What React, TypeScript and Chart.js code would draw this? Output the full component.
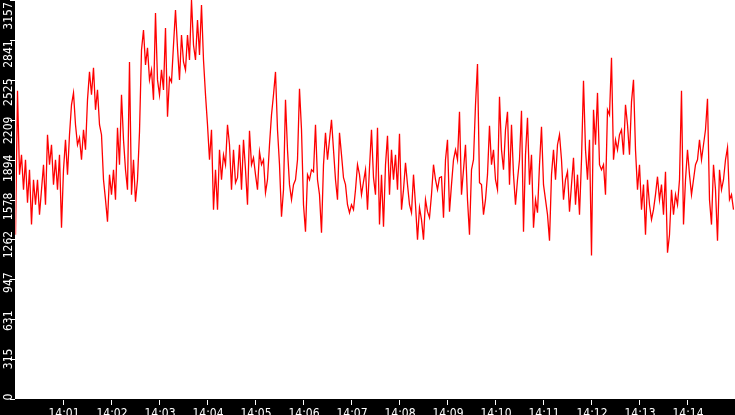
import { useEffect, useRef } from "react";
import { Chart, registerables } from "chart.js";

Chart.register(...registerables);

// Sampling: one reading every 2.5 s, starting at 14:00:00
const SAMPLE_SECONDS = 2.5;
const X_MAX_SECONDS = 900;
const X_TICK_STEP_SECONDS = 60;

// Series values (14:00:00 - 14:15:00)
const values1400 = [
  1300, 2438, 1775, 1932, 1656, 1893, 1553, 1814, 1380, 1735, 1537, 1735, 1459, 1656, 1854, 1537,
  2091, 1854, 2012, 1696, 1893, 1656, 1932, 1356, 1814, 2051, 1775, 2091, 2328, 2422, 2170, 2012,
  2067, 1893, 2130, 1972, 2367, 2588, 2407, 2620, 2288, 2446, 2170, 2091, 1735, 1577, 1403, 1775,
  1617, 1814, 1577, 2146, 1854, 2407, 2051,
];
const values1402 = [
  1814, 1656, 2667, 1617, 1893, 1561, 1735, 2114, 2762, 2920, 2643, 2778, 2525, 2604, 2367, 3054,
  2525, 2407, 2604, 2446, 2936, 2233, 2541, 2509, 2801, 3078, 2778, 2525, 2880, 2667, 2604, 2880,
  2683, 3157, 2801, 2683, 2999, 2722, 3117, 2683, 2407, 2170, 1893, 2130, 1498, 1814, 1498, 1972,
  1735, 1932, 1854, 2170, 2012, 1656, 1972,
];
const values1404 = [
  1711, 1751, 2012, 1656, 2051, 1814, 1537, 2122, 1854, 1909, 1775, 1656, 1956, 1854, 1893, 1632,
  1735, 2012, 2248, 2407, 2588, 2130, 1854, 1443, 1656, 2367, 1972, 1696, 1577, 1696, 1735, 1893,
  2454, 2130, 1537, 1324, 1775, 1735, 1814, 1798, 2170, 1735, 1617, 1316, 1854, 2106, 1893, 2051,
  2209, 1972, 1735, 1577, 2106, 1932, 1751, 1696, 1537, 1474, 1537, 1498, 1656, 1854, 1775,
];
const values1407 = [
  1617, 1719, 1814, 1498, 1830, 2130, 1751, 1617, 2146, 1380, 1775, 1364, 1854, 2083, 1617, 1972,
  1735, 1932, 1656, 2098, 1498, 1656, 1869, 1696, 1537, 1474, 1775, 1537, 1261, 1514, 1419, 1261,
  1577, 1482, 1435, 1617, 1854, 1735, 1656, 1751, 1759, 1435, 1893, 2051, 1482, 1696, 1893, 1972,
  1893, 2272, 1617, 1814, 2012, 1577, 1300, 1814, 1893, 2328, 2651, 1711, 1696, 1459,
];
const values1409 = [
  1577, 1775, 2162, 1854, 1972, 1735, 1656, 2391, 1972, 1814, 2130, 2272, 1696, 2170, 1775, 1537,
  1735, 1893, 2280, 1324, 1932, 2225, 1696, 1932, 1356, 1577, 1474, 1854, 2154, 1696, 1577, 1459,
  1253, 1775, 1972, 1735, 2012, 2091, 1893, 1577, 1735, 1798, 1482, 1696, 1909, 1537, 1775, 1459,
  1893, 2517, 1972, 1735, 2051, 1135, 2288, 2012, 2422, 1854, 1814, 1854, 1617, 2288,
];
const values1412 = [
  2248, 2699, 1893, 2051, 1972, 2091, 2130, 1932, 2328, 2170, 1932, 2351, 2525, 1972, 1656, 1854,
  1498, 1696, 1300, 1735, 1537, 1419, 1498, 1617, 1759, 1577, 1696, 1459, 1798, 1158, 1300, 1656,
  1459, 1617, 1537, 1735, 2438, 1380, 1735, 1972, 1775, 1617, 1735, 1854, 1893, 2051, 1893, 2012,
  2130, 2375, 1577, 1380, 1854, 1656, 1253, 1814, 1656, 1735, 1893, 1988, 1577, 1617, 1498,
];

const seriesValues = [
  ...values1400,
  ...values1402,
  ...values1404,
  ...values1407,
  ...values1409,
  ...values1412,
];

const xTickLabels = [
  "14:01", "14:02", "14:03", "14:04", "14:05", "14:06", "14:07",
  "14:08", "14:09", "14:10", "14:11", "14:12", "14:13", "14:14",
];

const Y_MAX = 3157;
const yTickLabels = ["0", "315", "631", "947", "1262", "1578", "1894", "2209", "2525", "2841", "3157"];

const LABEL_FONT = '12px "Liberation Sans Narrow", "DejaVu Sans Condensed", sans-serif';

export default function App() {
  const canvasRef = useRef<HTMLCanvasElement | null>(null);

  useEffect(() => {
    const canvas = canvasRef.current;
    if (!canvas) return;

    const shiftPlugin = {
      id: "crispShift",
      beforeDatasetsDraw(chart: any) {
        chart.ctx.save();
        chart.ctx.translate(0.5, 0);
      },
      afterDatasetsDraw(chart: any) {
        chart.ctx.restore();
      },
    };

    const axesPlugin = {
      id: "blackAxes",
      afterDraw(chart: any) {
        const { ctx, chartArea: a, width, height } = chart;
        const xs = chart.scales.x;
        const ys = chart.scales.y;
        ctx.save();
        ctx.fillStyle = "#000000";
        ctx.fillRect(0, 0, a.left, height);
        ctx.fillRect(0, a.bottom, width, height - a.bottom);

        ctx.strokeStyle = "#ffffff";
        ctx.fillStyle = "#ffffff";
        ctx.lineWidth = 1;
        ctx.font = LABEL_FONT;

        // Y axis ticks and rotated labels
        const n = yTickLabels.length - 1;
        yTickLabels.forEach((label, i) => {
          const v = (Y_MAX * i) / n;
          const p = ys.getPixelForValue(v);
          const py = Math.round(p) + 0.5;
          ctx.beginPath();
          ctx.moveTo(a.left - 5, py);
          ctx.lineTo(a.left, py);
          ctx.stroke();
          const span = a.bottom - a.top + 1;
          const cy = a.top + 15 + (p - a.top + 1) * ((span - 18) / span);
          ctx.save();
          ctx.translate(12, cy);
          ctx.rotate(-Math.PI / 2);
          ctx.textAlign = "center";
          ctx.textBaseline = "alphabetic";
          ctx.fillText(label, 0, 0);
          ctx.restore();
        });

        // X axis ticks and labels
        ctx.textAlign = "center";
        ctx.textBaseline = "alphabetic";
        xTickLabels.forEach((label, i) => {
          const s = (i + 1) * X_TICK_STEP_SECONDS;
          const p = xs.getPixelForValue(s);
          const px = Math.round(p) + 0.5;
          ctx.beginPath();
          ctx.moveTo(px, a.bottom + 1);
          ctx.lineTo(px, a.bottom + 6);
          ctx.stroke();
          ctx.fillText(label, p + 1, height + 2);
        });
        ctx.restore();
      },
    };

    const chart = new Chart(canvas, {
      type: "line",
      data: {
        datasets: [
          {
            data: seriesValues.map((v, i) => ({ x: i * SAMPLE_SECONDS, y: v })),
            borderColor: "#ff0000",
            borderWidth: 1.3,
            pointRadius: 0,
            tension: 0,
            fill: false,
          },
        ],
      },
      options: {
        responsive: false,
        animation: false,
        devicePixelRatio: 1,
        events: [],
        layout: { padding: { left: 15, right: 0, top: 0, bottom: 16 } },
        scales: {
          x: { type: "linear", min: 0, max: X_MAX_SECONDS, display: false },
          y: { min: 0, max: Y_MAX, display: false },
        },
        plugins: {
          legend: { display: false },
          tooltip: { enabled: false },
        },
      },
      plugins: [shiftPlugin, axesPlugin],
    });

    return () => chart.destroy();
  }, []);

  return (
    <div style={{ position: "absolute", left: 0, top: 0, width: 735, height: 415, background: "#ffffff" }}>
      <canvas ref={canvasRef} width={735} height={415} style={{ display: "block", width: 735, height: 415 }} />
    </div>
  );
}
